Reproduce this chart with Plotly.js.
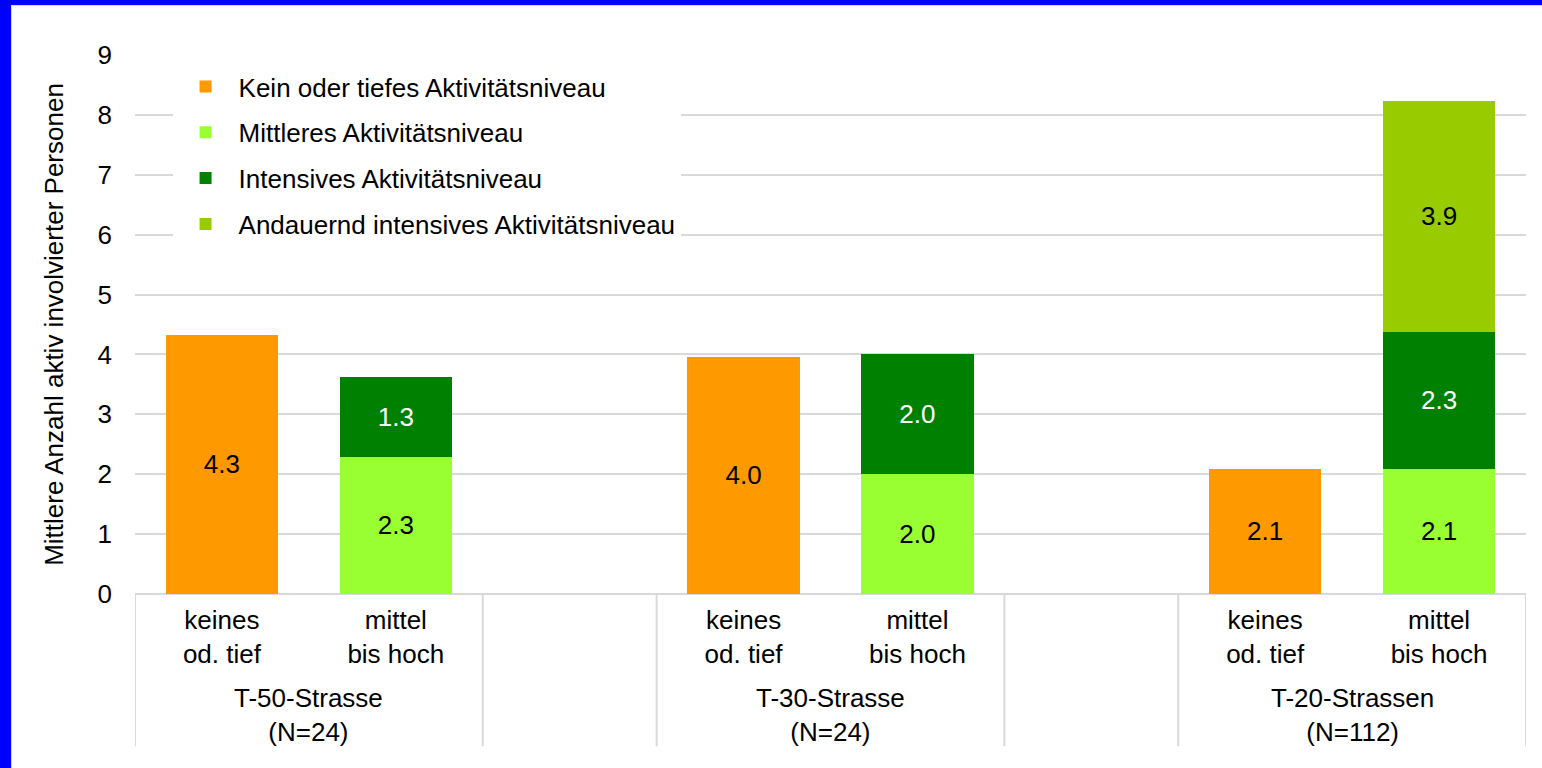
<!DOCTYPE html>
<html>
<head>
<meta charset="utf-8">
<script src="https://cdn.plot.ly/plotly-3.0.1.min.js"></script>
<style>
  html, body { margin: 0; padding: 0; background: #0000ff; width: 1542px; height: 768px; overflow: hidden; }
  #chart { position: absolute; left: 11px; top: 5px; width: 1531px; height: 763px; background: #fff;
           border-left: 1px solid #d9d9d9; border-top: 1px solid #d9d9d9; box-sizing: border-box; }
</style>
</head>
<body>
<div id="chart"></div>
<script>
// ---- data ----
const groups = ['T-50-Strasse<br>(N=24)', 'T-30-Strasse<br>(N=24)', 'T-20-Strassen<br>(N=112)'];
const subCategories = ['keines<br>od. tief', 'mittel<br>bis hoch'];
const seriesNames = ['Kein oder tiefes Aktivitätsniveau', 'Mittleres Aktivitätsniveau',
                     'Intensives Aktivitätsniveau', 'Andauernd intensives Aktivitätsniveau'];
const keinTief   = [4.33, 3.96, 2.09];   // bar "keines od. tief"
const mittleres  = [2.29, 2.00, 2.09];   // bar "mittel bis hoch"
const intensiv   = [1.34, 2.00, 2.29];   // bar "mittel bis hoch"
const andauernd  = [null, null, 3.85];   // bar "mittel bis hoch"
const yTicks = [0, 1, 2, 3, 4, 5, 6, 7, 8, 9];
const yTitle = 'Mittlere Anzahl aktiv involvierter Personen';

// ---- layout helpers ----
const slotsPerGroup = 3;           // two bars + one empty slot
const pos = (g, s) => g * slotsPerGroup + s;
const xKein = groups.map((_, g) => pos(g, 0));
const xMittel = groups.map((_, g) => pos(g, 1));
const FONT = 'Liberation Sans, Arial, sans-serif';
const FS = 26;
const barW = 0.645;

function mk(name, x, y, color, textColor, lg) {
  return {
    type: 'bar', name: name, x: x, y: y,
    width: x.map(() => barW),
    marker: { color: color, line: { width: 0 } },
    texttemplate: '%{y:.1f}', textposition: 'inside', insidetextanchor: 'middle',
    textangle: 0, constraintext: 'none',
    textfont: { family: FONT, size: FS, color: textColor },
    hoverinfo: 'skip', legendgroup: lg
  };
}

const traces = [
  mk(seriesNames[0], xKein, keinTief, '#FF9900', '#000000', 'a'),
  mk(seriesNames[1], xMittel, mittleres, '#99FF33', '#000000', 'b'),
  mk(seriesNames[2], xMittel, intensiv, '#008000', '#ffffff', 'c'),
  mk(seriesNames[3], xMittel, andauernd, '#99CC00', '#000000', 'd')
];

const tickvals = [], ticktext = [];
groups.forEach((_, g) => subCategories.forEach((s, i) => { tickvals.push(pos(g, i)); ticktext.push(s); }));

const nSlots = groups.length * slotsPerGroup - 1;
const divBottom = -0.2825;
const shapes = [];
groups.forEach((_, g) => {
  [pos(g, 0) - 0.5, pos(g, 1) + 0.5].forEach(xv => {
    shapes.push({ type: 'line', xref: 'x', yref: 'paper', x0: xv, x1: xv, y0: 0, y1: divBottom,
                  line: { color: '#d9d9d9', width: 2 } });
  });
});

const annotations = groups.map((g, i) => ({
  text: g, xref: 'x', yref: 'paper', x: (pos(i, 0) + pos(i, 1)) / 2, y: -0.162,
  xanchor: 'center', yanchor: 'top', showarrow: false,
  font: { family: FONT, size: FS, color: '#000' }
}));

const layout = {
  width: 1531, height: 763,
  margin: { l: 123, r: 17, t: 49, b: 175 },
  paper_bgcolor: '#ffffff', plot_bgcolor: '#ffffff',
  barmode: 'stack',
  font: { family: FONT, size: FS, color: '#000' },
  showlegend: true,
  legend: {
    x: 0.027, y: 0.985, xanchor: 'left', yanchor: 'top',
    bgcolor: '#ffffff', borderwidth: 0, traceorder: 'grouped',
    tracegroupgap: 9, itemwidth: 56,
    font: { family: FONT, size: FS, color: '#000' }
  },
  xaxis: {
    range: [-0.5, nSlots - 0.5], tickmode: 'array', tickvals: tickvals, ticktext: ticktext,
    showgrid: false, zeroline: false, showline: false, ticks: '',
    ticklabelstandoff: 8,
    tickfont: { family: FONT, size: FS, color: '#000' }, fixedrange: true
  },
  yaxis: {
    range: [0, 9], tickmode: 'array', tickvals: yTicks,
    showgrid: true, gridcolor: '#d9d9d9', gridwidth: 2,
    zeroline: true, zerolinecolor: '#d9d9d9', zerolinewidth: 2, showline: false,
    ticks: '', ticklabelstandoff: 22,
    tickfont: { family: FONT, size: FS, color: '#000' },
    title: { text: yTitle, font: { family: FONT, size: FS, color: '#000' }, standoff: 26 },
    fixedrange: true
  },
  shapes: shapes,
  annotations: annotations
};

Plotly.newPlot('chart', traces, layout, { displayModeBar: false, staticPlot: true });
</script>
</body>
</html>
